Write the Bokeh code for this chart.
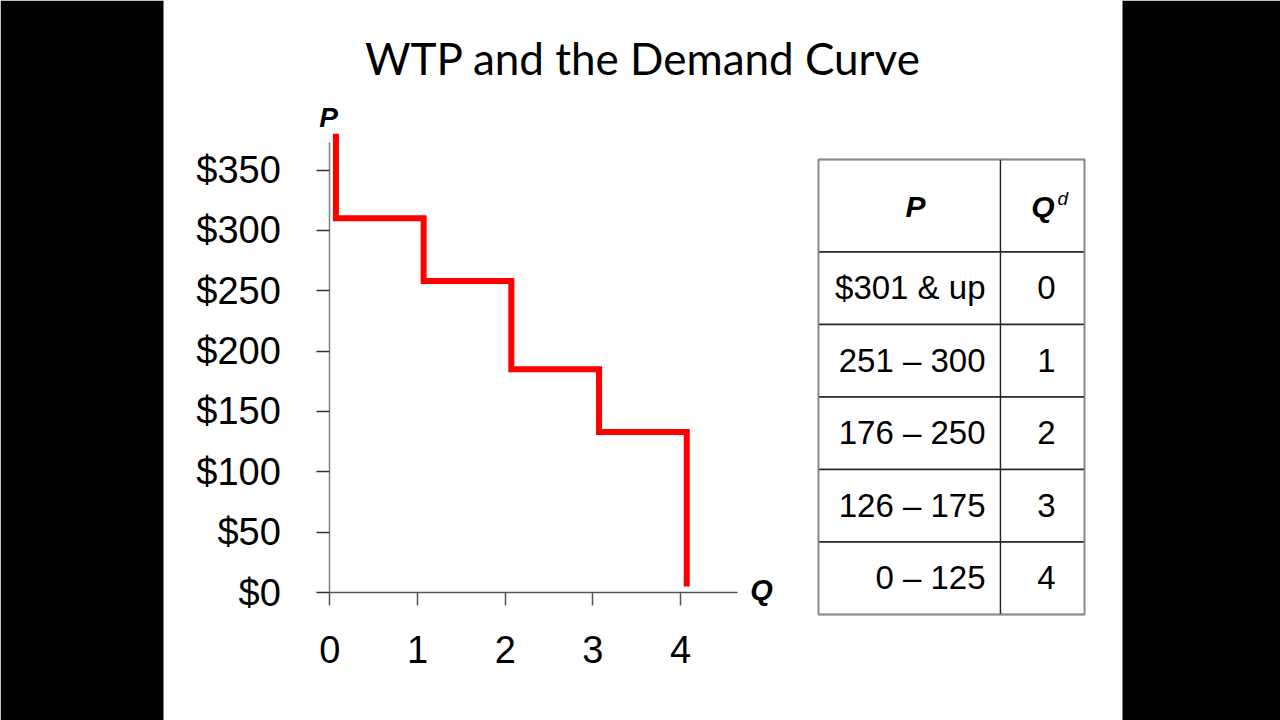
from bokeh.plotting import figure
from bokeh.models import Range1d, Label, FixedTicker, ColumnDataSource
from bokeh.core.properties import value
from bokeh.embed import file_html
from bokeh.resources import INLINE

# ---------------- data ----------------
quantities = [0, 1, 2, 3, 4]
wtp_steps = [310, 258, 185, 133]          # price level of each horizontal step
curve_top = 380                            # where the curve starts (above axis)
curve_bottom = 5                           # where the last vertical ends
y_ticks = [0, 50, 100, 150, 200, 250, 300, 350]
y_tick_labels = ["$0", "$50", "$100", "$150", "$200", "$250", "$300", "$350"]
x_ticks = [0, 1, 2, 3, 4]
x_tick_labels = ["0", "1", "2", "3", "4"]
table_prices = ["$301 & up", "251 \u2013 300", "176 \u2013 250", "126 \u2013 175", "0 \u2013 125"]
table_qd = ["0", "1", "2", "3", "4"]

TITLE = "WTP and the Demand Curve"
FONT = "Liberation Sans"

# ---------------- geometry (page pixels) ----------------
W, H = 1280, 720
X0_PX, PX_PER_Q = 329.3, 87.7         # where Q=0 sits, pixels per unit of Q
Y0_PX, PX_PER_D = 592.0, 1.207        # where $0 sits (from top), pixels per dollar
X_AXIS_END = 4.65
Y_AXIS_END = 373

# ---------------- step curve path (from data) ----------------
DX = 0.07
levels = wtp_steps + [curve_bottom]
xs = [quantities[0] + DX]
ys = [curve_top]
for i, q in enumerate(quantities):
    xs.append(q + DX)
    ys.append(levels[i])
    if i < len(quantities) - 1:
        xs.append(quantities[i + 1] + DX)
        ys.append(levels[i])

p = figure(width=W, height=H, toolbar_location=None, output_backend="svg",
           x_range=Range1d(-X0_PX / PX_PER_Q, (W - X0_PX) / PX_PER_Q),
           y_range=Range1d(-(H - Y0_PX) / PX_PER_D, Y0_PX / PX_PER_D),
           min_border=0)
p.title.text = ""
p.extra_x_ranges = {"px": Range1d(0, W)}
p.extra_y_ranges = {"py": Range1d(H, 0)}
p.outline_line_color = None
p.grid.visible = False
p.background_fill_color = "white"
p.border_fill_color = "white"

# black side bars of the slide
p.quad(left=[0, 1122], right=[163, W], top=[0, 0], bottom=[H, H],
       x_range_name="px", y_range_name="py", fill_color="black", line_color=None)

# demand curve
p.line(xs, ys, line_color="#ff0000", line_width=6, line_join="miter", line_cap="butt")

# axes
p.yaxis.ticker = FixedTicker(ticks=y_ticks)
p.yaxis.major_label_overrides = {t: l for t, l in zip(y_ticks, y_tick_labels)}
p.xaxis.ticker = FixedTicker(ticks=x_ticks)
p.xaxis.major_label_overrides = {t: l for t, l in zip(x_ticks, x_tick_labels)}
p.yaxis.fixed_location = 0
p.xaxis.fixed_location = 0
p.yaxis.bounds = (0, Y_AXIS_END)
p.xaxis.bounds = (0, X_AXIS_END)

for ax in (p.xaxis, p.yaxis):
    ax.major_tick_out = 13
    ax.major_tick_in = 0
    ax.minor_tick_out = 0
    ax.minor_tick_in = 0
    ax.major_label_text_font = FONT
    ax.major_label_text_font_size = "38px"
    ax.major_label_text_color = "black"
    ax.axis_line_width = 1.5
    ax.major_tick_line_width = 1.5
p.yaxis.axis_line_color = "#808080"
p.yaxis.major_tick_line_color = "#333333"
p.xaxis.axis_line_color = "#555555"
p.xaxis.major_tick_line_color = "#555555"
p.yaxis.major_label_standoff = 36
p.xaxis.major_label_standoff = 30

# title and axis letters (page pixel coordinates)
p.add_layout(Label(x=642.5, y=57, x_range_name="px", y_range_name="py", text=TITLE,
                   text_font="Lato", text_font_size="44px", text_color="black",
                   text_align="center", text_baseline="alphabetic"))
p.add_layout(Label(x=328, y=117, x_range_name="px", y_range_name="py", text="P",
                   text_font=FONT, text_font_style="bold italic", text_font_size="28px",
                   text_color="black", text_align="center", text_baseline="alphabetic"))
p.add_layout(Label(x=761, y=589, x_range_name="px", y_range_name="py", text="Q",
                   text_font=FONT, text_font_style="bold italic", text_font_size="29px",
                   text_color="black", text_align="center", text_baseline="alphabetic"))

# ---------------- table (page pixel coordinates) ----------------
col_edges = [818, 1000, 1084]
row_edges = [159, 251.5, 324, 396.5, 469, 541.5, 614]
L, R, T, B = [], [], [], []
for ri in range(len(row_edges) - 1):
    for ci in range(len(col_edges) - 1):
        L.append(col_edges[ci]); R.append(col_edges[ci + 1])
        T.append(row_edges[ri]); B.append(row_edges[ri + 1])
p.quad(left=L, right=R, top=T, bottom=B, x_range_name="px", y_range_name="py",
       fill_color="white", line_color="#222222", line_width=1.3)
p.quad(left=[col_edges[0]], right=[col_edges[-1]], top=[row_edges[0]], bottom=[row_edges[-1]],
       x_range_name="px", y_range_name="py",
       fill_color=None, line_color="#8a8a8a", line_width=1.6)

row_centers = [(row_edges[i + 1] + row_edges[i + 2]) / 2 for i in range(len(table_prices))]
src = ColumnDataSource(dict(price=table_prices, qd=table_qd,
                            yb=[c - 0.5 for c in row_centers]))
p.text(x=col_edges[1] - 15, y="yb", text="price", source=src,
       x_range_name="px", y_range_name="py", text_font=value(FONT),
       text_font_size="33px", text_align="right", text_baseline="alphabetic", text_color="black")
p.text(x=1046, y="yb", text="qd", source=src,
       x_range_name="px", y_range_name="py", text_font=value(FONT),
       text_font_size="33px", text_align="center", text_baseline="alphabetic", text_color="black")

hdr_c = (row_edges[0] + row_edges[1]) / 2
p.text(x=[915], y=[hdr_c + 1], text=["P"], x_range_name="px", y_range_name="py",
       text_font=value(FONT), text_font_style="bold italic", text_font_size="30px",
       text_align="center", text_baseline="alphabetic", text_color="black")
p.text(x=[1042.5], y=[hdr_c + 1], text=["Q"], x_range_name="px", y_range_name="py",
       text_font=value(FONT), text_font_style="bold italic", text_font_size="30px",
       text_align="center", text_baseline="alphabetic", text_color="black")
p.text(x=[1057], y=[hdr_c - 7], text=["d"], x_range_name="px", y_range_name="py",
       text_font=value(FONT), text_font_style="italic", text_font_size="19px",
       text_align="left", text_baseline="alphabetic", text_color="black")

open("out.html", "w").write(file_html(p, INLINE))
